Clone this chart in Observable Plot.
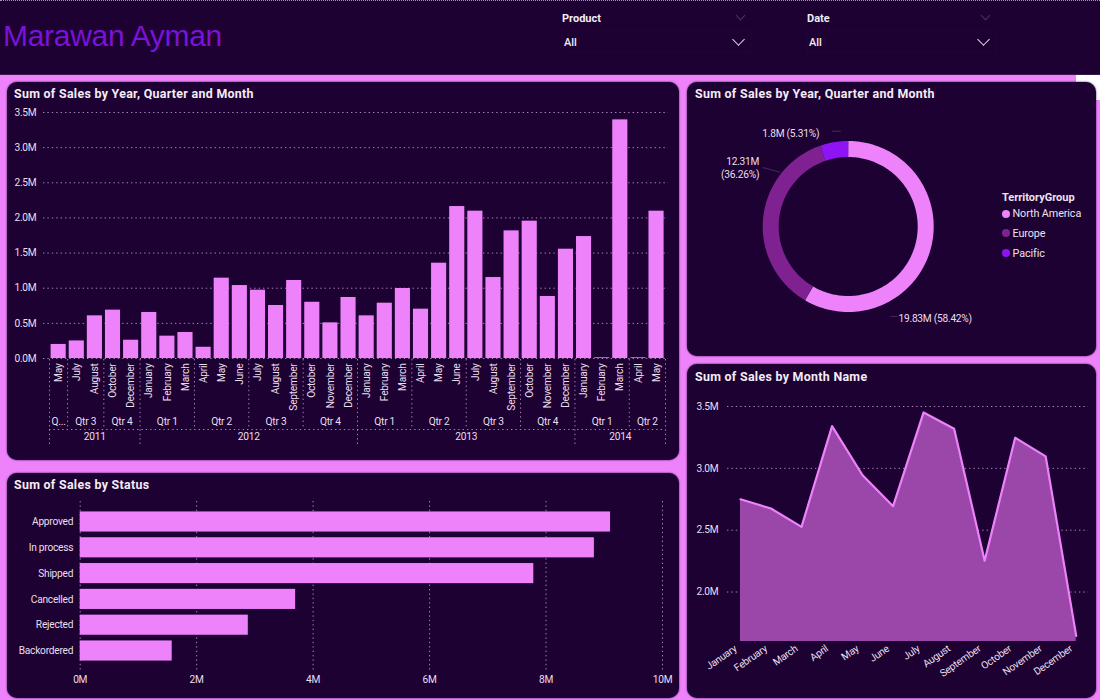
<!DOCTYPE html>
<html><head><meta charset="utf-8">
<script src="https://cdn.jsdelivr.net/npm/d3@7"></script>
<script src="https://cdn.jsdelivr.net/npm/@observablehq/plot@0.6"></script>
<style>
html,body{margin:0;padding:0}
body{width:1100px;height:700px;background:#ee82fb;position:relative;overflow:hidden;font-family:Roboto,sans-serif;color:#f1e6f3}
.abs{position:absolute}
#hdr{left:0;top:0;width:1100px;height:75px;background:#1e0133;border-top:1px dotted #c080d0;border-bottom:1px solid #3a1a4e;box-sizing:border-box}
#notch{left:1076px;top:75px;width:24px;height:25px;background:#fff}
.panel{position:absolute;background:#1d0132;border-radius:10px;box-shadow:0 0 2px #2a0a40}
.panel svg{position:absolute;left:0;top:0;background:transparent;overflow:visible}
.ttl{position:absolute;left:7px;top:4px;font:700 12.4px Roboto,sans-serif;color:#f3ecf5;letter-spacing:.3px;white-space:nowrap}
#name{left:3px;top:19px;font:30px "Liberation Sans",sans-serif;color:#7a12d8;letter-spacing:-.3px;white-space:nowrap}
.flab{font:700 11px Roboto,sans-serif;color:#f1ebf3;white-space:nowrap}
.fval{font:500 11px Roboto,sans-serif;color:#f1ebf3;white-space:nowrap}
.chev{width:7px;height:7px;border-right:1.4px solid #e6dcea;border-bottom:1.4px solid #e6dcea;transform:rotate(45deg);box-sizing:border-box}
.chev.dim{border-color:#4d3060}
.slot{border:1px solid #240233;box-sizing:border-box}
#lg{left:1002px;top:192px;font:11px/1 Roboto,sans-serif;color:#ece1ee}
#lg b{font-size:11px;display:block;position:absolute;top:0;left:0;white-space:nowrap}
.li{position:absolute;left:0;white-space:nowrap;font-size:10.8px;letter-spacing:-.1px}
.li i{display:inline-block;width:8px;height:8px;border-radius:50%;margin-right:2.5px;vertical-align:-0.5px}
</style></head><body>
<div id="hdr" class="abs"></div>
<div id="notch" class="abs"></div>
<div id="name" class="abs">Marawan Ayman</div>
<div class="abs slot" style="left:562px;top:30px;width:190px;height:23px"></div>
<div class="abs slot" style="left:807px;top:30px;width:190px;height:23px"></div>
<div class="abs flab" style="left:562px;top:12px">Product</div>
<div class="abs fval" style="left:564px;top:36px">All</div>
<div class="abs chev dim" style="left:737px;top:12px"></div>
<div class="abs chev" style="left:734px;top:35px;width:9px;height:9px"></div>
<div class="abs flab" style="left:807px;top:12px">Date</div>
<div class="abs fval" style="left:809px;top:36px">All</div>
<div class="abs chev dim" style="left:982px;top:12px"></div>
<div class="abs chev" style="left:979px;top:35px;width:9px;height:9px"></div>

<div class="panel" id="p1" style="left:7px;top:82px;width:672px;height:378px"><div class="ttl">Sum of Sales by Year, Quarter and Month</div></div>
<div class="panel" id="p2" style="left:687px;top:82px;width:409px;height:274px"><div class="ttl" style="left:8px">Sum of Sales by Year, Quarter and Month</div></div>
<div class="panel" id="p3" style="left:687px;top:364px;width:409px;height:334px"><div class="ttl" style="left:8px;top:5px">Sum of Sales by Month Name</div></div>
<div class="panel" id="p4" style="left:7px;top:473px;width:672px;height:225px"><div class="ttl">Sum of Sales by Status</div></div>
<div id="lg" class="abs"></div>

<script>
// ---------- data ----------
const periodYears = [2011,2011,2011,2011,2011,2012,2012,2012,2012,2012,2012,2012,2012,2012,2012,2012,2012,2013,2013,2013,2013,2013,2013,2013,2013,2013,2013,2013,2013,2014,2014,2014,2014,2014];
const periodQuarters = ["Qtr 2","Qtr 3","Qtr 3","Qtr 4","Qtr 4","Qtr 1","Qtr 1","Qtr 1","Qtr 2","Qtr 2","Qtr 2","Qtr 3","Qtr 3","Qtr 3","Qtr 4","Qtr 4","Qtr 4","Qtr 1","Qtr 1","Qtr 1","Qtr 2","Qtr 2","Qtr 2","Qtr 3","Qtr 3","Qtr 3","Qtr 4","Qtr 4","Qtr 4","Qtr 1","Qtr 1","Qtr 1","Qtr 2","Qtr 2"];
const periodMonths = ["May","July","August","October","December","January","February","March","April","May","June","July","August","September","October","November","December","January","February","March","April","May","June","July","August","September","October","November","December","January","February","March","April","May"];
const periodSales = [0.20,0.25,0.607,0.688,0.26,0.655,0.318,0.37,0.16,1.143,1.038,0.972,0.754,1.11,0.80,0.507,0.868,0.607,0.787,0.996,0.702,1.356,2.162,2.096,1.152,1.816,1.954,0.882,1.555,1.735,0.01,3.395,0.01,2.096];

const territoryNames = ["North America","Europe","Pacific"];
const territorySales = [19.83,12.31,1.8];
const territoryShares = [58.42,36.26,5.31];
const territoryColors = ["#ee82fb","#7f2190","#8f14f5"];
const territoryLabels = ["19.83M (58.42%)","12.31M\n(36.26%)","1.8M (5.31%)"];

const monthNames = ["January","February","March","April","May","June","July","August","September","October","November","December"];
const monthSales = [2.75,2.675,2.527,3.341,2.944,2.694,3.452,3.32,2.253,3.247,3.097,1.645];

const statusNames = ["Approved","In process","Shipped","Cancelled","Rejected","Backordered"];
const statusSales = [9.108,8.83,7.79,3.70,2.887,1.58];

// ---------- shared styling ----------
const PINK="#ee82fb", GRID="#c594d2", TXT="#e9dfec", BG="transparent", FS=10.2;
const gridStyle={stroke:GRID,strokeOpacity:.85,strokeDasharray:"1.4,3",strokeWidth:1};
const baseStyle={background:BG,fontFamily:"Roboto,sans-serif",fontSize:"10.2px",letterSpacing:"-.25px",color:TXT,overflow:"visible"};
const M=v=>v*1e6;
const mount=(id,p)=>document.getElementById(id).appendChild(p);

// ---------- panel 1: bars with hierarchical axis ----------
const rows=periodSales.map((v,i)=>({i,mid:i+.5,sales:M(v),month:periodMonths[i],q:periodQuarters[i],y:periodYears[i]}));
function spans(key){
  const out=[];
  rows.forEach(r=>{const k=key(r),l=out[out.length-1];
    if(l&&l.k===k) l.end=r.i+1; else out.push({k,start:r.i,end:r.i+1,label:r});});
  out.forEach(s=>s.mid=(s.start+s.end)/2);
  return out;
}
const qSpans=spans(r=>r.y+r.q), ySpans=spans(r=>r.y);
const qBreaks=qSpans.map(s=>s.start), yBreaks=[...ySpans.map(s=>s.start),rows.length];
const qStarts=qBreaks.filter(b=>!yBreaks.includes(b));
mount("p1",Plot.plot({
  width:672,height:378,marginLeft:36,marginRight:11,marginTop:30,marginBottom:13,
  style:baseStyle,
  x:{type:"linear",domain:[0,rows.length],range:[42,658],axis:null},
  y:{domain:[0,M(3.5)],range:[276,30],axis:null},
  marks:[
    Plot.gridY({ticks:d3.range(0,3.51,.5).map(M),...gridStyle}),
    Plot.rect(rows,{x1:"i",x2:d=>d.i+1,y1:0,y2:"sales",fill:PINK,insetLeft:1.6,insetRight:1.4}),
    Plot.axisY({ticks:d3.range(0,3.51,.5).map(M),tickFormat:d=>(d/1e6).toFixed(1)+"M",tickSize:0,tickPadding:7,anchor:"left",label:null,fontSize:FS,fill:TXT}),
    Plot.text(rows,{x:"mid",y:0,text:"month",rotate:-90,textAnchor:"end",dy:5,fontSize:FS,fill:TXT}),
    Plot.text(qSpans,{x:"mid",frameAnchor:"bottom",dy:-22.5,text:d=>d.end-d.start===1?"Q...":d.label.q,fontSize:FS,fill:TXT}),
    Plot.text(ySpans,{x:"mid",frameAnchor:"bottom",dy:-8,text:d=>String(d.label.y),fontSize:FS,fill:TXT}),
    Plot.ruleX(qStarts,{...gridStyle,insetTop:247,insetBottom:18}),
    Plot.ruleX(yBreaks,{...gridStyle,insetTop:247}),
    Plot.ruleY([0],{...gridStyle,dy:71,x1:0,x2:rows.length})
  ]
}));

// ---------- panel 2: donut ----------
let acc=0;
const slices=territoryNames.map((name,k)=>{const a0=acc;acc+=territoryShares[k];return {name,a0,a1:acc,sales:territorySales[k],label:territoryLabels[k]};});
const scaleAngle=d3.scaleLinear().domain([0,acc]).range([0,2*Math.PI]);
const arcPts=slices.flatMap(s=>{
  const t0=scaleAngle(s.a0),t1=scaleAngle(s.a1),n=Math.max(4,Math.ceil((t1-t0)*60));
  return d3.range(n+1).map(j=>{const t=t0+(t1-t0)*j/n;return {name:s.name,px:Math.sin(t),py:Math.cos(t)};});
});
// label placement, as offsets from the donut centre (pixels)
const labelOffsets={"North America":{dx:50.3,dy:91,a:"start"},"Europe":{dx:-89,dy:-59,a:"end"},"Pacific":{dx:-29,dy:-94,a:"end"}};
// faint leader lines, in ring-radius units
const leaders=[
  {k:"a",u:.55,v:-1.16},{k:"a",u:.63,v:-1.16},
  {k:"b",u:-1.1,v:.76},{k:"b",u:-.88,v:.70},
  {k:"c",u:-.2,v:1.23},{k:"c",u:-.1,v:1.23}
];
mount("p2",Plot.plot({
  width:409,height:274,margin:0,style:baseStyle,
  x:{domain:[-1,1],range:[160.7-77.5,160.7+77.5],axis:null},
  y:{domain:[-1,1],range:[144+77.5,144-77.5],axis:null},
  color:{domain:territoryNames,range:territoryColors},
  marks:[
    Plot.line(arcPts,{x:"px",y:"py",z:"name",stroke:"name",strokeWidth:16,strokeLinecap:"butt",strokeLinejoin:"round"}),
    Plot.line(leaders,{x:"u",y:"v",z:"k",stroke:"#4a2a5e",strokeWidth:1}),
    ...slices.map(s=>{const o=labelOffsets[s.name];
      return Plot.text([s],{x:()=>0,y:()=>0,text:"label",dx:o.dx,dy:o.dy,textAnchor:o.a,fontSize:FS,lineHeight:1.25,fill:TXT});}),
  ]
}));
document.getElementById("lg").innerHTML="<b>TerritoryGroup</b>"+territoryNames.map((n,k)=>`<div class="li" style="top:${17+k*19.9}px"><i style="background:${territoryColors[k]}"></i>${n}</div>`).join("");

// ---------- panel 3: area ----------
const mRows=monthNames.map((m,i)=>({m,s:M(monthSales[i])}));
const AREA_BASE=M(1.6);
mount("p3",Plot.plot({
  width:409,height:334,marginLeft:40,marginRight:8,marginTop:30,marginBottom:56,
  style:baseStyle,
  x:{type:"point",domain:monthNames,range:[53,388.7],padding:0,round:false,axis:null},
  y:{domain:[AREA_BASE,M(3.5)],range:[277,42],axis:null},
  marks:[
    Plot.ruleY([2,2.5,3,3.5].map(M),{...gridStyle}),
    Plot.areaY(mRows,{x:"m",y1:AREA_BASE,y2:"s",fill:"#9a47a9",curve:"linear"}),
    Plot.line(mRows,{x:"m",y:"s",stroke:PINK,strokeWidth:2.2,curve:"linear"}),
    Plot.axisY({ticks:[2,2.5,3,3.5].map(M),tickFormat:d=>(d/1e6).toFixed(1)+"M",tickSize:0,tickPadding:9,label:null,fontSize:FS,fill:TXT}),
    Plot.axisX({tickRotate:-35,tickSize:0,tickPadding:5,dx:-5,label:null,fontSize:FS,fill:TXT})
  ]
}));

// ---------- panel 4: horizontal bars ----------
const sRows=statusNames.map((n,i)=>({n,s:M(statusSales[i])}));
mount("p4",Plot.plot({
  width:672,height:225,marginLeft:72.7,marginRight:17,marginTop:28,marginBottom:26,
  style:baseStyle,
  x:{domain:[0,M(10)],range:[72.7,655],axis:null},
  y:{type:"band",domain:statusNames,range:[35.6,190.4],paddingInner:.22,paddingOuter:.11,round:false,axis:null},
  marks:[
    Plot.gridX({ticks:d3.range(0,10.1,2).map(M),...gridStyle}),
    Plot.barX(sRows,{y:"n",x:"s",fill:PINK}),
    Plot.axisY({tickSize:0,tickPadding:7,label:null,fontSize:FS,fill:TXT,anchor:"left"}),
    Plot.axisX({ticks:d3.range(0,10.1,2).map(M),tickFormat:d=>(d/1e6)+"M",tickSize:0,tickPadding:3,label:null,fontSize:FS,fill:TXT})
  ]
}));
</script>
</body></html>
